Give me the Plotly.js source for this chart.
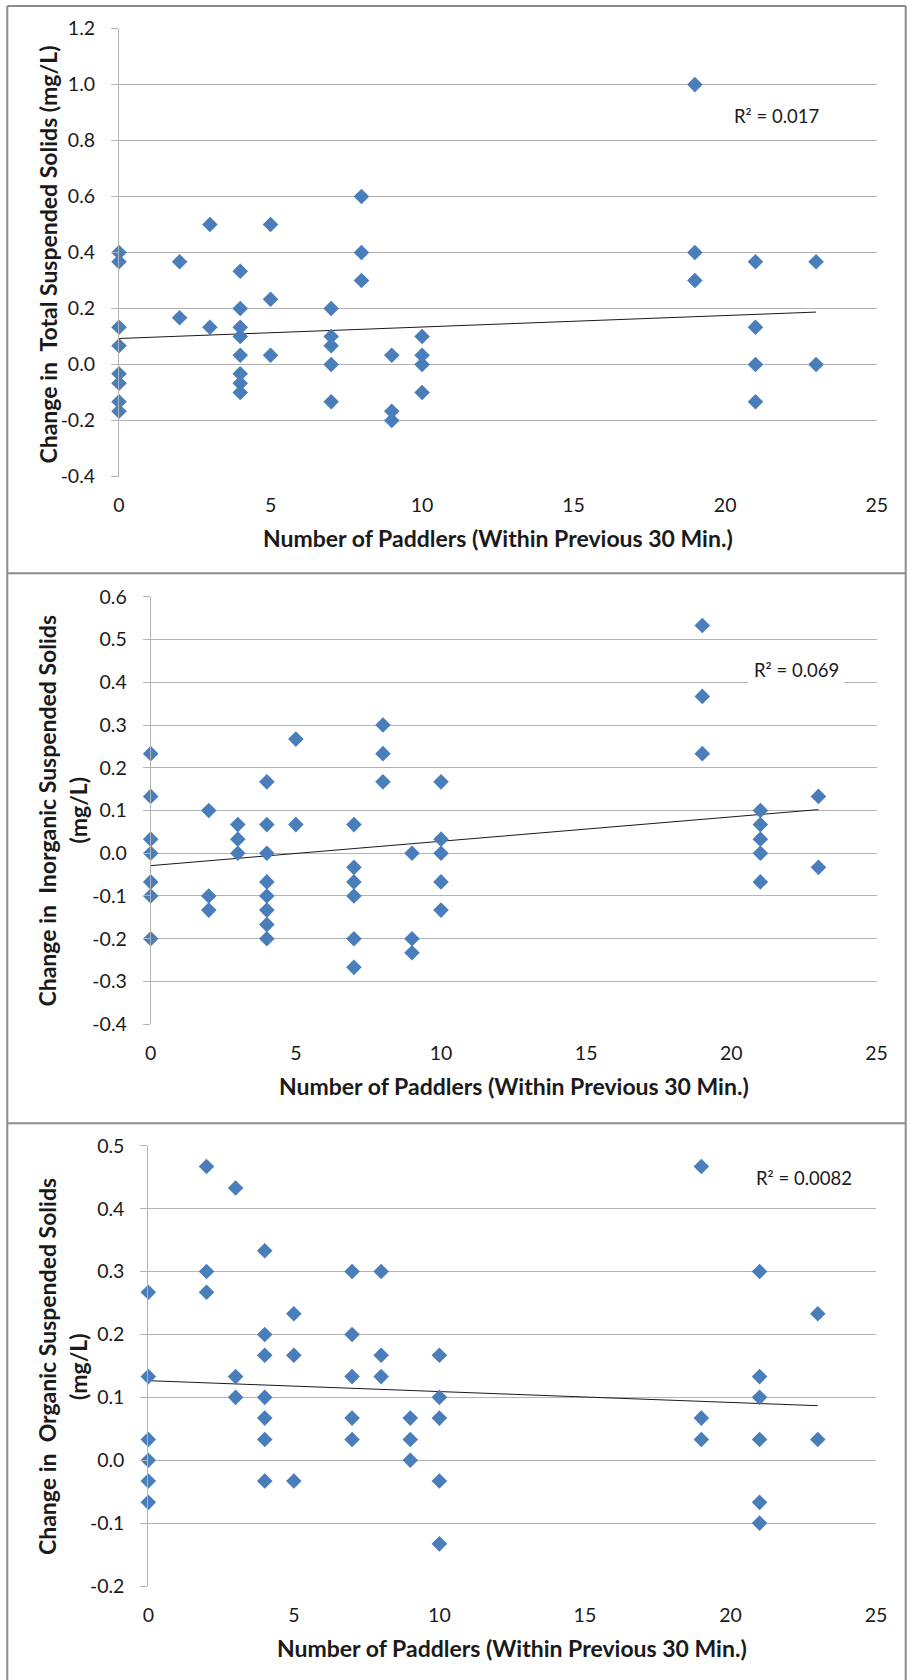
<!DOCTYPE html>
<html>
<head>
<meta charset="utf-8">
<script src="https://cdn.plot.ly/plotly-3.0.1.min.js"></script>
<style>
  html, body { margin: 0; padding: 0; background: #ffffff; }
  #chart { width: 907px; height: 1680px; }
</style>
</head>
<body>
<div id="chart"></div>
<script>
// ---------- DATA ----------
// Panel 1: Change in Total Suspended Solids (mg/L)
var tssX = [0,0,0,0,0,0,0,0, 2,2, 3,3, 4,4,4,4,4,4,4,4, 5,5,5, 7,7,7,7,7, 8,8,8, 9,9,9, 10,10,10,10, 19,19,19, 21,21,21,21, 23,23];
var tssY = [0.400,0.367,0.133,0.067,-0.033,-0.067,-0.133,-0.167, 0.367,0.167, 0.500,0.133,
            0.333,0.200,0.133,0.100,0.033,-0.033,-0.067,-0.100, 0.500,0.233,0.033,
            0.200,0.100,0.067,0.000,-0.133, 0.600,0.400,0.300, 0.033,-0.167,-0.200,
            0.100,0.033,0.000,-0.100, 1.000,0.400,0.300, 0.367,0.133,0.000,-0.133, 0.367,0.000];
var tssTrend = [0.093, 0.0041];      // [intercept, slope] of the drawn trend line
var tssR2 = "R² = 0.017";
var tssTickVals = [-0.4, -0.2, 0.0, 0.2, 0.4, 0.6, 0.8, 1.0, 1.2];
var tssTickText = ["-0.4", "-0.2", "0.0", "0.2", "0.4", "0.6", "0.8", "1.0", "1.2"];

// Panel 2: Change in Inorganic Suspended Solids (mg/L)
var issX = [0,0,0,0,0,0,0, 2,2,2, 3,3,3, 4,4,4,4,4,4,4,4, 5,5, 7,7,7,7,7,7, 8,8,8, 9,9,9, 10,10,10,10,10, 19,19,19, 21,21,21,21,21, 23,23];
var issY = [0.233,0.133,0.033,0.000,-0.067,-0.100,-0.200, 0.100,-0.100,-0.133, 0.067,0.033,0.000,
            0.167,0.067,0.000,-0.067,-0.100,-0.133,-0.167,-0.200, 0.267,0.067,
            0.067,-0.033,-0.067,-0.100,-0.200,-0.267, 0.300,0.233,0.167, 0.000,-0.200,-0.233,
            0.167,0.033,0.000,-0.067,-0.133, 0.533,0.367,0.233, 0.100,0.067,0.033,0.000,-0.067, 0.133,-0.033];
var issTrend = [-0.029, 0.0057];
var issR2 = "R² = 0.069";
var issTickVals = [-0.4, -0.3, -0.2, -0.1, 0.0, 0.1, 0.2, 0.3, 0.4, 0.5, 0.6];
var issTickText = ["-0.4", "-0.3", "-0.2", "-0.1", "0.0", "0.1", "0.2", "0.3", "0.4", "0.5", "0.6"];

// Panel 3: Change in Organic Suspended Solids (mg/L)
var ossX = [0,0,0,0,0,0, 2,2,2, 3,3,3, 4,4,4,4,4,4,4, 5,5,5, 7,7,7,7,7, 8,8,8, 9,9,9, 10,10,10,10,10, 19,19,19, 21,21,21,21,21,21, 23,23];
var ossY = [0.267,0.133,0.033,0.000,-0.033,-0.067, 0.467,0.300,0.267, 0.433,0.133,0.100,
            0.333,0.200,0.167,0.100,0.067,0.033,-0.033, 0.233,0.167,-0.033,
            0.300,0.200,0.133,0.067,0.033, 0.300,0.167,0.133, 0.067,0.033,0.000,
            0.167,0.100,0.067,-0.033,-0.133, 0.467,0.067,0.033, 0.300,0.133,0.100,0.033,-0.067,-0.100, 0.233,0.033];
var ossTrend = [0.1265, -0.00173];
var ossR2 = "R² = 0.0082";
var ossTickVals = [-0.2, -0.1, 0.0, 0.1, 0.2, 0.3, 0.4, 0.5];
var ossTickText = ["-0.2", "-0.1", "0.0", "0.1", "0.2", "0.3", "0.4", "0.5"];

var xTickVals = [0, 5, 10, 15, 20, 25];
var xTickText = ["0", "5", "10", "15", "20", "25"];
var trendXRange = [0, 23];
var xTitle = "Number of Paddlers (Within Previous 30 Min.)";
var yTitles = [
  ["Change in\u00a0\u00a0Total Suspended Solids (mg/L)"],
  ["Change in\u00a0\u00a0Inorganic Suspended Solids", "(mg/L)"],
  ["Change in\u00a0\u00a0Organic Suspended Solids", "(mg/L)"]
];

// ---------- LAYOUT GEOMETRY ----------
var W = 907, H = 1680;
function px(x) { return x / W; }
function py(y) { return 1 - y / H; }

var panels = [
  { xs: tssX, ys: tssY, trend: tssTrend, r2: tssR2, yr: [-0.4, 1.2],
    tv: tssTickVals, tt: tssTickText,
    left: 119, right: 876.7, top: 28.6, bottom: 476.5,
    r2x: 776.5, r2y: 116, r2bg: false, xtY: 537.5, ytX: [47], ytY: 254.5 },
  { xs: issX, ys: issY, trend: issTrend, r2: issR2, yr: [-0.4, 0.6],
    tv: issTickVals, tt: issTickText,
    left: 150.7, right: 876.5, top: 596.8, bottom: 1024.2,
    r2x: 796.5, r2y: 670, r2bg: true, xtY: 1086, ytX: [47, 78], ytY: 810.5 },
  { xs: ossX, ys: ossY, trend: ossTrend, r2: ossR2, yr: [-0.2, 0.5],
    tv: ossTickVals, tt: ossTickText,
    left: 148.3, right: 876, top: 1145.8, bottom: 1586,
    r2x: 804, r2y: 1178, r2bg: false, xtY: 1648, ytX: [47, 78], ytY: 1367 }
];

var FONT = "Lato, 'Open Sans', sans-serif";
var TXT = "#1a1a1a";
var GRID = "#b3b3b3";
var MARK = "#4a7ebb";
var TICKSIZE = 19.5, TITLESIZE = 23, R2SIZE = 18.5;

var data = [];
var layout = {
  width: W, height: H,
  margin: { l: 0, r: 0, t: 0, b: 0 },
  paper_bgcolor: "#ffffff",
  plot_bgcolor: "#ffffff",
  showlegend: false,
  font: { family: FONT, size: TICKSIZE, color: TXT },
  annotations: [],
  shapes: []
};

panels.forEach(function (p, i) {
  var n = i + 1;
  var xa = "x" + n, ya = "y" + n;
  var xk = "xaxis" + n, yk = "yaxis" + n;
  var tk = n + 3;
  var xdom = [px(p.left), px(p.right)];
  var ydom = [py(p.bottom), py(p.top)];

  data.push({
    type: "scatter", mode: "lines",
    x: trendXRange,
    y: trendXRange.map(function (x) { return p.trend[0] + p.trend[1] * x; }),
    xaxis: xa, yaxis: ya,
    line: { color: "#1a1a1a", width: 1 },
    hoverinfo: "skip"
  });
  data.push({
    type: "scatter", mode: "markers", x: p.xs, y: p.ys,
    xaxis: xa, yaxis: ya, cliponaxis: false,
    marker: { symbol: "diamond", size: 12, color: MARK, line: { width: 0 } },
    hoverinfo: "x+y"
  });

  layout[xk] = {
    domain: xdom, anchor: ya, range: [0, 25],
    tickmode: "array", tickvals: xTickVals, ticktext: xTickText,
    showgrid: false, zeroline: false, showline: false, ticks: "",
    ticklabelstandoff: 15,
    tickfont: { family: FONT, size: TICKSIZE, color: TXT },
    fixedrange: true
  };
  layout[yk] = {
    domain: ydom, anchor: xa, range: p.yr,
    tickmode: "array", tickvals: p.tv, ticktext: p.tt,
    showgrid: true, gridcolor: GRID, gridwidth: 1,
    zeroline: false,
    showline: true, linecolor: GRID, linewidth: 1,
    ticks: "outside", ticklen: 7, tickcolor: GRID, tickwidth: 1,
    ticklabelstandoff: 12,
    tickfont: { family: FONT, size: TICKSIZE, color: TXT },
    fixedrange: true
  };
  // tick marks on the horizontal zero line
  var zeroPos = ydom[0] + (0 - p.yr[0]) / (p.yr[1] - p.yr[0]) * (ydom[1] - ydom[0]);
  layout["xaxis" + tk] = {
    overlaying: xa, anchor: "free", position: zeroPos, side: "bottom",
    range: [0, 25], tickmode: "array", tickvals: xTickVals,
    showgrid: false, zeroline: false, showline: false,
    ticks: "outside", ticklen: 7, tickcolor: GRID, tickwidth: 1,
    showticklabels: false, fixedrange: true
  };

  // R² label
  layout.annotations.push({
    xref: "paper", yref: "paper", x: px(p.r2x), y: py(p.r2y),
    xanchor: "center", yanchor: "middle", showarrow: false,
    text: p.r2, font: { family: FONT, size: R2SIZE, color: TXT },
    bgcolor: p.r2bg ? "#ffffff" : "rgba(0,0,0,0)", borderpad: 5
  });
  // x-axis title
  layout.annotations.push({
    xref: "paper", yref: "paper", x: (xdom[0] + xdom[1]) / 2, y: py(p.xtY),
    xanchor: "center", yanchor: "middle", showarrow: false,
    text: "<b>" + xTitle + "</b>",
    font: { family: FONT, size: TITLESIZE, color: TXT }
  });
  // y-axis title (one annotation per line)
  yTitles[i].forEach(function (t, j) {
    layout.annotations.push({
      xref: "paper", yref: "paper", x: px(p.ytX[j]), y: py(p.ytY),
      xanchor: "center", yanchor: "middle", showarrow: false, textangle: -90,
      text: "<b>" + t + "</b>",
      font: { family: FONT, size: TITLESIZE, color: TXT }
    });
  });
});

// panel frames
var BORDER = { color: "#8c8c8c", width: 2 };
function seg(x0, y0, x1, y1) {
  return { type: "line", xref: "paper", yref: "paper",
           x0: px(x0), y0: py(y0), x1: px(x1), y1: py(y1), line: BORDER, layer: "above" };
}
layout.shapes.push(seg(7.3, 6, 905.7, 6));
layout.shapes.push(seg(7.3, 6, 7.3, 1680));
layout.shapes.push(seg(905.7, 6, 905.7, 1680));
layout.shapes.push(seg(7.3, 573.3, 905.7, 573.3));
layout.shapes.push(seg(7.3, 1123.3, 905.7, 1123.3));

Plotly.newPlot("chart", data, layout, { displayModeBar: false, staticPlot: true });
</script>
</body>
</html>
